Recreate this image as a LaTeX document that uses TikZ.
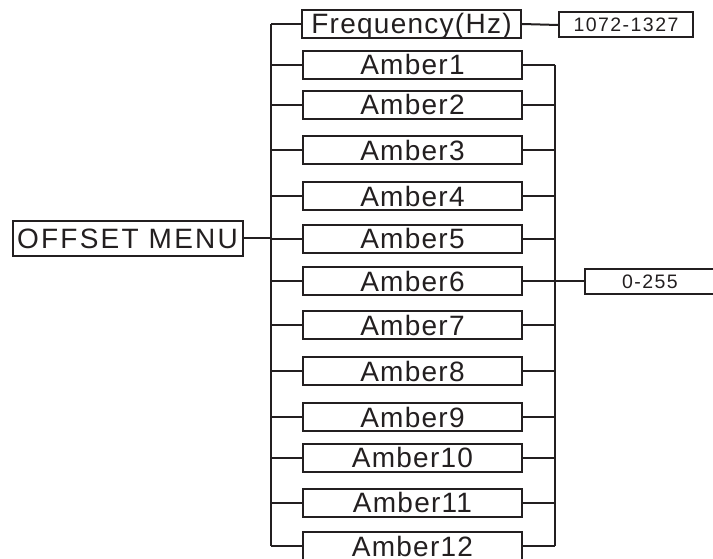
\documentclass[tikz,border=0pt]{standalone}
\usepackage{fontspec}
\setmainfont{Liberation Sans}
\newfontfamily\menufont[LetterSpace=8]{Liberation Sans}
\newfontfamily\itemfont[LetterSpace=4.5]{Liberation Sans}
\newfontfamily\valfont[LetterSpace=7.5]{Liberation Sans}
\definecolor{ink}{HTML}{231F20}
\tikzset{
  menubox/.style={draw=ink, text=ink, line width=2pt, inner sep=0pt,
    minimum width=230pt, minimum height=35pt, text height=20pt, text depth=0pt,
    font=\menufont\fontsize{28}{30}\selectfont},
  itembox/.style={draw=ink, text=ink, line width=2pt, inner sep=0pt,
    minimum width=219pt, minimum height=28pt, text height=20pt, text depth=0pt,
    font=\itemfont\fontsize{28}{30}\selectfont},
  valbox/.style={draw=ink, text=ink, line width=2pt, inner sep=0pt,
    minimum height=25pt, text height=14pt, text depth=0pt,
    font=\valfont\fontsize{19.5}{21}\selectfont},
  wire/.style={draw=ink, line width=2pt}
}
\begin{document}
\begin{tikzpicture}[x=1pt,y=-1pt]
\useasboundingbox (0,0) rectangle (713,559);
\coordinate (busL) at (271,0);
\coordinate (busR) at (555,0);
\node[menubox] (menu) at (127.5,238.5) {OFFSET MENU};
\node[itembox] (freq) at (411.5,24) {Frequency(Hz)};
\node[valbox, minimum width=134pt] (r1) at (626,25) {1072-1327};
\node[itembox] (a1) at (412.5,65) {Amber1};
\node[itembox] (a2) at (412.5,105) {Amber2};
\node[itembox] (a3) at (412.5,150.5) {Amber3};
\node[itembox] (a4) at (412.5,196.5) {Amber4};
\node[itembox] (a5) at (412.5,239) {Amber5};
\node[itembox] (a6) at (412.5,281) {Amber6};
\node[itembox] (a7) at (412.5,325) {Amber7};
\node[itembox] (a8) at (412.5,371) {Amber8};
\node[itembox] (a9) at (412.5,417) {Amber9};
\node[itembox] (a10) at (412.5,457.5) {Amber10};
\node[itembox] (a11) at (412.5,502.5) {Amber11};
\node[itembox] (a12) at (412.5,546) {Amber12};
\node[valbox, minimum width=130pt] (r2) at (650,281) {0-255};
% left bus
\draw[wire] (menu.east) -- (menu.east -| busL);
\draw[wire] (busL |- freq.west) -- (busL |- a12.west);
\draw[wire] (freq.west) -- (freq.west -| busL);
\foreach \n in {a1,a2,a3,a4,a5,a6,a7,a8,a9,a10,a11,a12}{
  \draw[wire] (\n.west) -- (\n.west -| busL);
  \draw[wire] (\n.east) -- (\n.east -| busR);
}
% right bus
\draw[wire] (busR |- a1.east) -- (busR |- a12.east);
\draw[wire] (freq.east) -- (r1.west);
\draw[wire] (a6.east) -- (r2.west);
\end{tikzpicture}
\end{document}
